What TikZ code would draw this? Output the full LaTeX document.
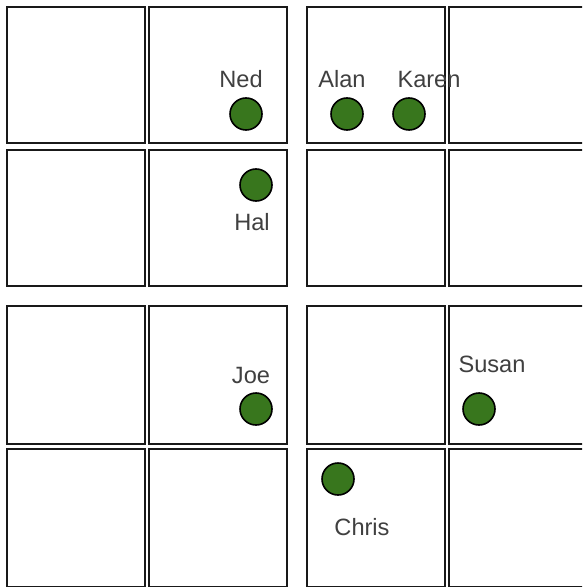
\documentclass[tikz,border=0pt]{standalone}
\usepackage{fontspec}
\setmainfont{Liberation Sans}
\definecolor{pingreen}{HTML}{38761D}
\definecolor{labelgray}{HTML}{404040}
\tikzset{
  cell/.style={draw=black!90,line width=1pt},
  person/.style={circle,draw=black,fill=pingreen,line width=0.8pt,minimum size=16pt,inner sep=0pt},
  tag/.style={text=labelgray,font=\fontsize{11.8}{14}\selectfont,inner sep=0pt}
}
\begin{document}
\begin{tikzpicture}[x=0.5pt,y=-0.5pt]
\clip (0,0) rectangle (582,587);
\fill[white] (0,0) rectangle (582,587);
% four blocks of 2x2 cells
\foreach \xa/\xb in {7/145,149/287,307/445,449/587}
  \foreach \ya/\yb in {7/143,150/286,306/444,449/587}
    \draw[cell] (\xa,\ya) rectangle (\xb,\yb);
% people
\node[person] (ned) at (246,114) {};
\node[tag] (nedlabel) at (241,79) {Ned};
\node[person] (hal) at (256,185) {};
\node[tag] (hallabel) at (252,222) {Hal};
\node[person] (alan) at (347,114) {};
\node[tag] (alanlabel) at (342,79) {Alan};
\node[person] (karen) at (409,114) {};
\node[tag] (karenlabel) at (429,79) {Karen};
\node[person] (joe) at (256,409) {};
\node[tag] (joelabel) at (251,375) {Joe};
\node[person] (susan) at (479,409) {};
\node[tag] (susanlabel) at (492,364) {Susan};
\node[person] (chris) at (338,479) {};
\node[tag] (chrislabel) at (362,527) {Chris};
\end{tikzpicture}
\end{document}
